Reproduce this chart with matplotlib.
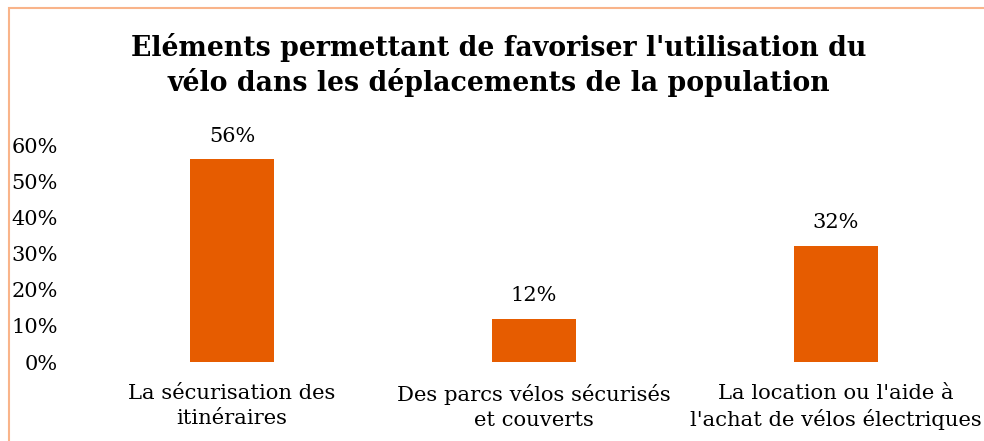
import numpy as np
import matplotlib.pyplot as plt
from matplotlib.patches import Rectangle

# Données
categories = ["La sécurisation des\nitinéraires",
              "Des parcs vélos sécurisés\net couverts",
              "La location ou l'aide à\nl'achat de vélos électriques"]
valeurs = [0.56, 0.12, 0.32]
etiquettes = ["56%", "12%", "32%"]
ticks_y = [0, 0.1, 0.2, 0.3, 0.4, 0.5, 0.6]
ticks_lab = ["0%", "10%", "20%", "30%", "40%", "50%", "60%"]

orange = '#E65C00'
plt.rcParams['font.family'] = ['DejaVu Serif']

fig = plt.figure(figsize=[9.84, 4.41], dpi=100)
ax = fig.add_axes([81 / 984, 1 - 362 / 441, 906 / 984, 217 / 441])

x = np.arange(len(categories))
ax.bar(x, valeurs, width=0.275, color=orange)
for xi, v, lab in zip(x, valeurs, etiquettes):
    ax.annotate(lab, (xi, v), xytext=(0, 10), textcoords='offset points',
                ha='center', va='bottom', fontsize=15)

ax.set_xlim(-0.5, 2.5)
ax.set_ylim(0, 0.6)
ax.set_yticks(ticks_y)
ax.set_yticklabels(ticks_lab, fontsize=15)
ax.set_xticks(x)
ax.set_xticklabels(categories, fontsize=15.2, linespacing=1.4)
ax.tick_params(axis='both', length=0)
ax.tick_params(axis='x', pad=15.5)
ax.tick_params(axis='y', pad=16.5)
for s in ax.spines.values():
    s.set_visible(False)

fig.text(0.507, 1 - 65 / 441, "Eléments permettant de favoriser l'utilisation du\n"
         "vélo dans les déplacements de la population",
         ha='center', va='center', fontsize=19.3, fontweight='bold', linespacing=1.3)

# cadre
fig.patches.append(Rectangle((8.5 / 984, -0.1), 1.2, (441 - 7.5) / 441 + 0.1,
                             transform=fig.transFigure, fill=False,
                             edgecolor='#F9B48A', linewidth=1.5))

fig.savefig("out.png", dpi=100)
